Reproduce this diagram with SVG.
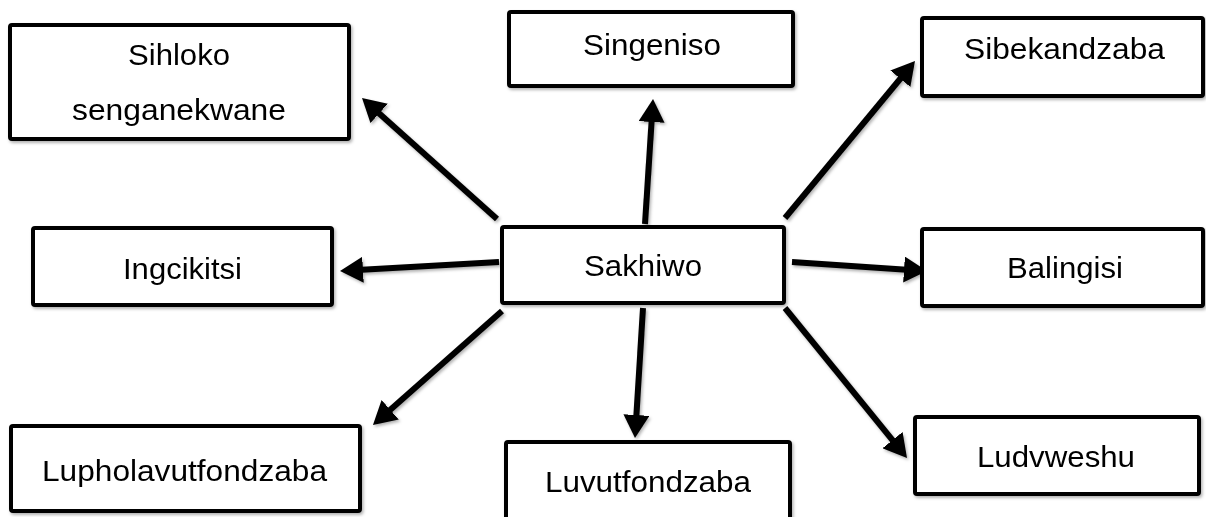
<svg xmlns="http://www.w3.org/2000/svg" width="1206" height="517" viewBox="0 0 1206 517">
  <defs>
    <style>
      .box { fill: #ffffff; stroke: #000000; stroke-width: 4; }
      .lbl { font-family: "Liberation Sans", Arial, sans-serif; font-size: 30px; fill: #000000; text-anchor: middle; }
      .conn { stroke: #000000; stroke-width: 6; fill: none; marker-end: url(#head); }
    </style>
    <filter id="shadow" x="-20%" y="-20%" width="140%" height="140%">
      <feDropShadow dx="1.5" dy="2" stdDeviation="1.5" flood-color="#000000" flood-opacity="0.3"/>
    </filter>
    <marker id="head" viewBox="0 0 23 26" refX="10" refY="13" markerWidth="23" markerHeight="26" markerUnits="userSpaceOnUse" orient="auto">
      <path d="M0,0 L23,13 L0,26 z" fill="#000000"/>
    </marker>
  </defs>
  <rect width="1206" height="517" fill="#ffffff"/>

  <g id="connectors" filter="url(#shadow)">
    <line class="conn" x1="497" y1="219" x2="371.7" y2="106.7"/>
    <line class="conn" x1="645" y1="224" x2="652.2" y2="112"/>
    <line class="conn" x1="785" y1="218" x2="906.7" y2="71"/>
    <line class="conn" x1="499" y1="262" x2="353" y2="270.3"/>
    <line class="conn" x1="792" y1="262" x2="914" y2="270.2"/>
    <line class="conn" x1="502" y1="311" x2="382.7" y2="416.4"/>
    <line class="conn" x1="643" y1="308" x2="635.8" y2="425"/>
    <line class="conn" x1="785" y1="308" x2="898.8" y2="447.9"/>
  </g>

  <g id="sihloko" filter="url(#shadow)">
    <rect class="box" x="10" y="25" width="339" height="114" rx="2"/>
    <text class="lbl" x="179" y="65" textLength="102" lengthAdjust="spacingAndGlyphs">Sihloko</text>
    <text class="lbl" x="179" y="120" textLength="214" lengthAdjust="spacingAndGlyphs">senganekwane</text>
  </g>
  <g id="singeniso" filter="url(#shadow)">
    <rect class="box" x="509" y="12" width="284" height="74" rx="2"/>
    <text class="lbl" x="652" y="55" textLength="138" lengthAdjust="spacingAndGlyphs">Singeniso</text>
  </g>
  <g id="sibekandzaba" filter="url(#shadow)">
    <rect class="box" x="922" y="18" width="281" height="78" rx="2"/>
    <text class="lbl" x="1064.5" y="59" textLength="201" lengthAdjust="spacingAndGlyphs">Sibekandzaba</text>
  </g>
  <g id="ingcikitsi" filter="url(#shadow)">
    <rect class="box" x="33" y="228" width="299" height="77" rx="2"/>
    <text class="lbl" x="182.5" y="279" textLength="119" lengthAdjust="spacingAndGlyphs">Ingcikitsi</text>
  </g>
  <g id="sakhiwo" filter="url(#shadow)">
    <rect class="box" x="502" y="227" width="282" height="76" rx="2"/>
    <text class="lbl" x="643" y="276" textLength="118" lengthAdjust="spacingAndGlyphs">Sakhiwo</text>
  </g>
  <g id="balingisi" filter="url(#shadow)">
    <rect class="box" x="922" y="229" width="281" height="77" rx="2"/>
    <text class="lbl" x="1065" y="278" textLength="116" lengthAdjust="spacingAndGlyphs">Balingisi</text>
  </g>
  <g id="lupholavutfondzaba" filter="url(#shadow)">
    <rect class="box" x="11" y="426" width="349" height="85" rx="2"/>
    <text class="lbl" x="184.5" y="481" textLength="285" lengthAdjust="spacingAndGlyphs">Lupholavutfondzaba</text>
  </g>
  <g id="luvutfondzaba" filter="url(#shadow)">
    <rect class="box" x="506" y="442" width="284" height="100" rx="2"/>
    <text class="lbl" x="648" y="492" textLength="206" lengthAdjust="spacingAndGlyphs">Luvutfondzaba</text>
  </g>
  <g id="ludvweshu" filter="url(#shadow)">
    <rect class="box" x="915" y="417" width="284" height="77" rx="2"/>
    <text class="lbl" x="1056" y="467" textLength="158" lengthAdjust="spacingAndGlyphs">Ludvweshu</text>
  </g>
</svg>
